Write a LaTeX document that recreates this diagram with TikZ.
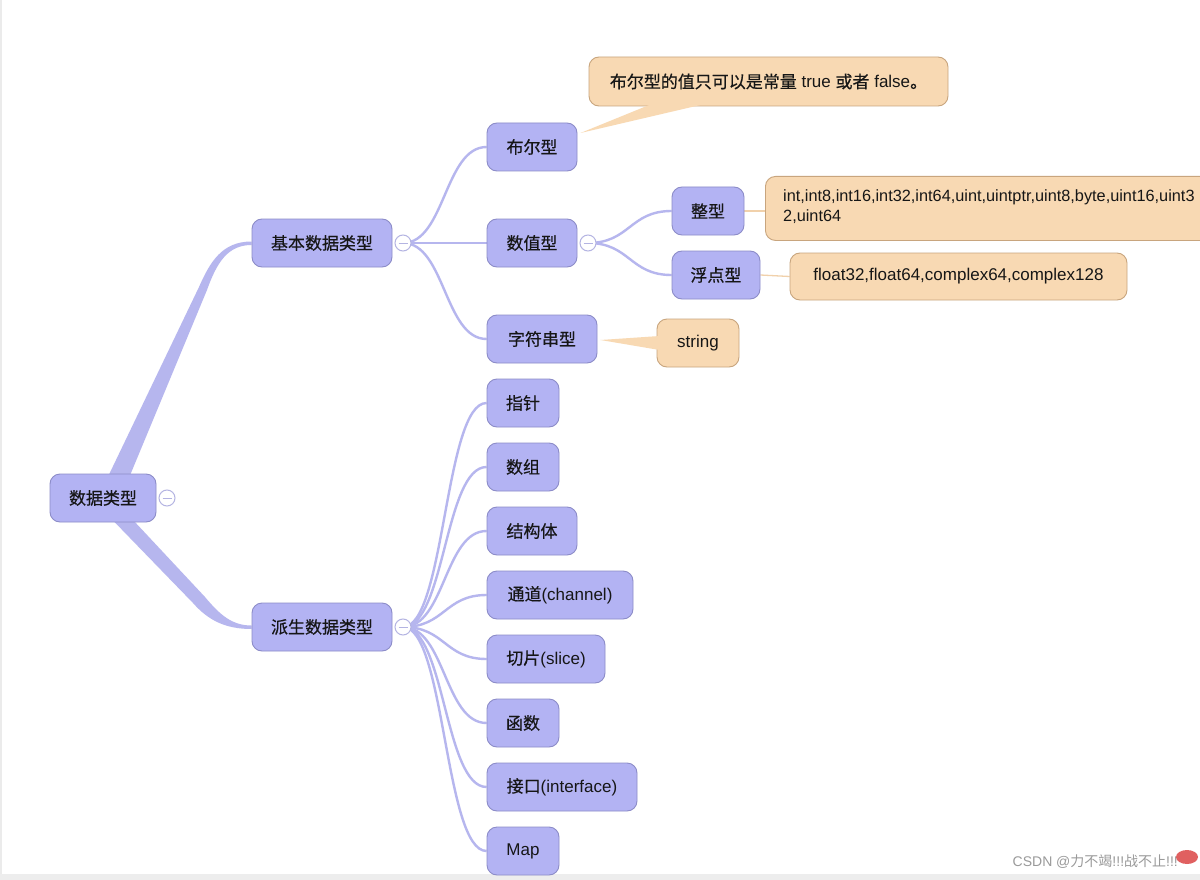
\documentclass[tikz,border=0pt]{standalone}
\usepackage{fontspec}
\setmainfont{Liberation Sans}
\newfontfamily\cjk{Noto Sans CJK SC}[FakeBold=0.45]
\newfontfamily\cjklight{Noto Sans CJK SC}
\newcommand{\zhs}[1]{{\cjk #1}}
\definecolor{nfill}{HTML}{B3B3F3}
\definecolor{nborder}{HTML}{8C8CC8}
\definecolor{lineC}{HTML}{B6B6EE}
\definecolor{pfill}{HTML}{F8D9B3}
\definecolor{pborder}{HTML}{C8A57E}
\definecolor{circC}{HTML}{B4B4E2}
\definecolor{txt}{HTML}{161616}
\definecolor{wmC}{HTML}{9A9A9A}
\definecolor{logoC}{HTML}{E06060}
\pgfdeclarelayer{base}
\pgfdeclarelayer{lines}
\pgfsetlayers{base,lines,main}
\begin{document}
\begin{tikzpicture}[x=1pt,y=-1pt,
  font=\fontsize{17}{20}\selectfont,
  topic/.style={draw=nborder, fill=nfill, rounded corners=10pt, line width=0.9pt,
    minimum height=48pt, inner sep=0pt, text=txt},
  callout/.style={draw=pborder, fill=pfill, rounded corners=10pt, line width=0.9pt,
    inner sep=0pt, text=txt},
  conn/.style={draw=lineC, line width=2.4pt},
  branch/.style={fill=lineC},
  tailS/.style={fill=pfill},
  plink/.style={draw=pfill!85!pborder, line width=1.3pt},
  coll/.style={circle, draw=circC, fill=white, line width=1pt, minimum size=16pt, inner sep=0pt},
  minusline/.style={draw=circC, line width=1pt}
]
\path[use as bounding box] (0,0) rectangle (1200,880);
\clip (0,0) rectangle (1200,880);
\begin{pgfonlayer}{base}
\fill[white] (0,0) rectangle (1200,880);
\fill[black!8] (0,0) rectangle (2,880);
\fill[black!7] (0,874) rectangle (1200,880);
\end{pgfonlayer}

% ---------- nodes ----------
\node[topic, minimum width=106pt] (root) at (103,498) {\zhs{数据类型}};
\node[topic, minimum width=140pt] (basic) at (322,243) {\zhs{基本数据类型}};
\node[topic, minimum width=140pt] (derived) at (322,627) {\zhs{派生数据类型}};

\node[topic, minimum width=90pt] (bool) at (532,147) {\zhs{布尔型}};
\node[topic, minimum width=90pt] (num) at (532,243) {\zhs{数值型}};
\node[topic, minimum width=110pt] (str) at (542,339) {\zhs{字符串型}};
\node[topic, minimum width=72pt] (int) at (708,211) {\zhs{整型}};
\node[topic, minimum width=88pt] (float) at (716,275) {\zhs{浮点型}};

\node[topic, minimum width=72pt] (ptr) at (523,403) {\zhs{指针}};
\node[topic, minimum width=72pt] (arr) at (523,467) {\zhs{数组}};
\node[topic, minimum width=90pt] (struct) at (532,531) {\zhs{结构体}};
\node[topic, minimum width=146pt] (chan) at (560,595) {\zhs{通道}(channel)};
\node[topic, minimum width=118pt] (slice) at (546,659) {\zhs{切片}(slice)};
\node[topic, minimum width=72pt] (func) at (523,723) {\zhs{函数}};
\node[topic, minimum width=150pt] (iface) at (562,787) {\zhs{接口}(interface)};
\node[topic, minimum width=72pt] (map) at (523,851) {Map};

% callouts
\node[callout, minimum width=359pt, minimum height=49pt] (boolc) at (768.5,81.5)
  {\zhs{布尔型的值只可以是常量} true \zhs{或者} false\zhs{。}};
\node[callout, minimum width=470pt, minimum height=64pt, anchor=north west] (intc) at (765,176) {};
\node[anchor=north west, inner sep=0pt, text=txt, align=left,
  font=\fontsize{16.3}{20}\selectfont] (intt) at (783,189)
  {int,int8,int16,int32,int64,uint,uintptr,uint8,byte,uint16,uint3\\2,uint64};
\node[callout, minimum width=337pt, minimum height=47pt] (floatc) at (958.5,276.5)
  {float32,float64,complex64,complex128};
\node[callout, minimum width=82pt, minimum height=48pt] (strc) at (698,343) {string};

% callout tails
\fill[tailS] ([xshift=3pt,yshift=14pt]bool.east) -- ([xshift=-115.5pt,yshift=3pt]boolc.south)
  -- ([xshift=-61.5pt,yshift=3pt]boolc.south) -- cycle;
\fill[tailS] ([xshift=3pt,yshift=-1pt]str.east) -- ([xshift=3pt,yshift=7pt]strc.west)
  -- ([xshift=3pt,yshift=-7pt]strc.west) -- cycle;

% collapse circles
\node[coll] (c0) at (167,498) {};
\node[coll] (cb) at (403,243) {};
\node[coll] (cd) at (403,627) {};
\node[coll] (cn) at (588,243) {};
\foreach \c in {c0,cb,cd,cn}
  \draw[minusline] ([xshift=-4.5pt]\c.center) -- ([xshift=4.5pt]\c.center);

% ---------- connectors (behind nodes) ----------
\begin{pgfonlayer}{lines}
\fill[branch] (104,485) -- (199,287) .. controls (210,262) and (222,241.5) .. ([yshift=1.5pt]basic.west)
  -- ([yshift=-2pt]basic.west) .. controls (228,245) and (217,262) .. (207,290) -- (126,485) -- cycle;
\fill[branch] (119,505) -- (205,597) .. controls (220,615) and (232,625.5) .. ([yshift=1.5pt]derived.west)
  -- ([yshift=-2pt]derived.west) .. controls (225,629) and (208,620) .. (193,603) -- (98,505) -- cycle;
\draw[conn] (cb.center) -- (num.west);
\foreach \n in {bool,str}
  \draw[conn] (cb.center) .. controls +(42,0) and +(-42,0) .. (\n.west);
\foreach \n in {ptr,arr,struct,chan,slice,func,iface,map}
  \draw[conn] (cd.center) .. controls +(42,0) and +(-42,0) .. (\n.west);
\foreach \n in {int,float}
  \draw[conn] (cn.center) .. controls +(42,0) and +(-42,0) .. (\n.west);
\draw[plink] (int.east) -- (intc.west |- int.east);
\draw[plink] (float.east) -- (floatc.west);
\end{pgfonlayer}

% watermark
\node[anchor=east, inner sep=0pt, text=wmC, font=\fontsize{14}{16}\selectfont] (wm) at (1178,862)
  {CSDN @{\cjklight 力不竭}!!!{\cjklight 战不止}!!!};
\fill[logoC] (1187,857) ellipse (11pt and 7pt);
\end{tikzpicture}
\end{document}
